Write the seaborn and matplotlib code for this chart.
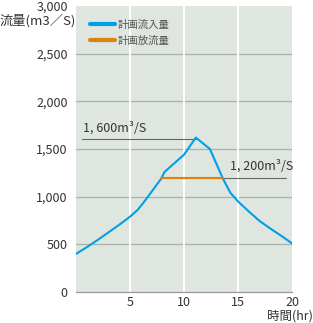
import matplotlib
matplotlib.use("Agg")
import matplotlib.pyplot as plt
import pandas as pd
import seaborn as sns

# hydrograph (hours, m3/s)
inflow_hours = [0, 1, 2, 3, 4, 5, 5.7, 6.3, 7.9, 8.2, 9, 10, 11.1, 12.4, 13.6,
                14.3, 15, 16, 17, 18, 19, 20]
inflow_values = [400, 470, 545, 625, 705, 790, 860, 945, 1190, 1260, 1340, 1440, 1620,
                 1500, 1190, 1040, 950, 845, 745, 665, 590, 510]
outflow_hours = [7.9, 13.6]
outflow_values = [1200, 1200]

series_names = ["計画流入量", "計画放流量"]
y_ticks = [0, 500, 1000, 1500, 2000, 2500, 3000]
x_ticks = [5, 10, 15, 20]
peak_label = "1, 600m³/S"
release_label = "1, 200m³/S"

blue = "#00a0e9"
orange = "#dc8314"
grey_text = "#333333"

sns.set_style("white")
plt.rcParams["font.family"] = ["Noto Sans CJK JP", "DejaVu Sans"]

df = pd.concat([
    pd.DataFrame({"hour": inflow_hours, "flow": inflow_values, "series": series_names[0]}),
    pd.DataFrame({"hour": outflow_hours, "flow": outflow_values, "series": series_names[1]}),
])

fig = plt.figure(figsize=(3.13, 3.23), dpi=100)
ax = fig.add_axes([76 / 313, 31 / 323, 216 / 313, 286 / 323])
ax.set_facecolor("#dfe5df")

# grid: grey horizontals, white verticals
for y in y_ticks[1:-1]:
    ax.axhline(y, color="#a9b1a8", lw=0.9, zorder=0)
for x in x_ticks[:-1]:
    ax.axvline(x, color="white", lw=1.4, zorder=0)

# reference lines for the annotations
ax.plot([0.6, 11.1], [1600, 1600], color="#666666", lw=0.8, zorder=1)
ax.plot([13.6, 19.4], [1200, 1200], color="#666666", lw=0.8, zorder=1)

sns.lineplot(data=df, x="hour", y="flow", hue="series", sort=False,
             palette=[blue, orange], ax=ax, zorder=3, estimator=None)
for line, lw in zip(ax.get_lines()[-2:], [2.3, 2.0]):
    line.set_linewidth(lw)
    line.set_solid_joinstyle("round")

ax.text(0.65, 1650, peak_label, fontsize=9, color=grey_text, va="bottom")
ax.text(14.3, 1250, release_label, fontsize=9, color=grey_text, va="bottom")

ax.set_xlim(0, 20)
ax.set_ylim(0, 3000)
ax.set_xticks(x_ticks)
ax.set_yticks(y_ticks)
ax.set_yticklabels([f"{v:,}" for v in y_ticks])
ax.tick_params(axis="both", labelsize=9, colors=grey_text, length=0, pad=3)
ax.tick_params(axis="y", length=3, color="#999999", pad=3)
ax.set_xlabel("")
ax.set_ylabel("")
for side in ["top", "right", "left"]:
    ax.spines[side].set_visible(False)
ax.spines["bottom"].set_color("#999999")
ax.spines["bottom"].set_linewidth(0.9)

leg = ax.legend(loc="upper left", frameon=False, fontsize=7.5, handlelength=2.4,
                handletextpad=0.3, labelspacing=0.55, borderaxespad=0.9)
for text in leg.get_texts():
    text.set_color("#555555")
for h in leg.legend_handles:
    h.set_linewidth(3)

fig.text(0.0, 1 - 21 / 323, "流量(m3／S)", fontsize=9.5, color=grey_text, va="center")
fig.text(1.0, 7 / 323, "時間(hr)", fontsize=9, color=grey_text, ha="right", va="center")

fig.savefig("out.png", dpi=100)
